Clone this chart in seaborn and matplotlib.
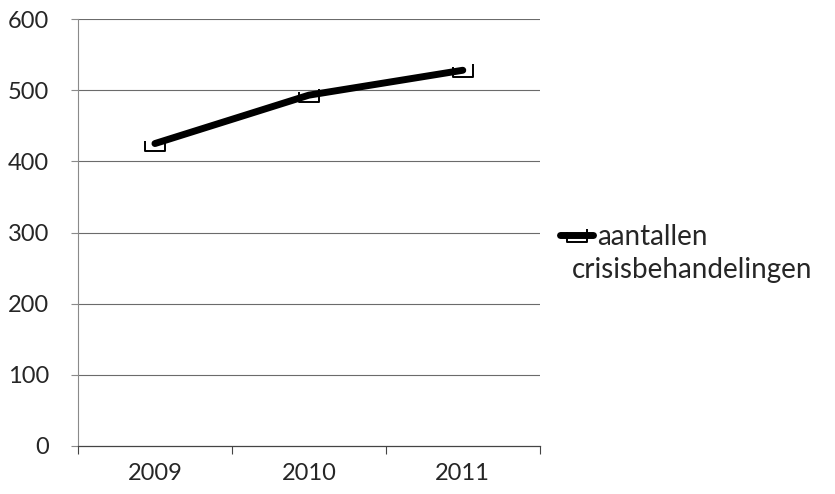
import matplotlib
matplotlib.use("Agg")
import matplotlib.pyplot as plt
import pandas as pd
import seaborn as sns

# data
years = ["2009", "2010", "2011"]
counts = [425, 493, 528]
series_name = "aantallen"
series_name_cont = "crisisbehandelingen"
y_ticks = [0, 100, 200, 300, 400, 500, 600]

df = pd.DataFrame({"jaar": years, "aantal": counts, "reeks": series_name})

sns.set_theme(style="white")
plt.rcParams["font.family"] = ["Lato", "DejaVu Sans"]

fig = plt.figure(figsize=(8.35, 4.94), dpi=100)
ax = fig.add_axes([0.0934, 0.0972, 0.553, 0.8643])

# open "cup" marker like the scanned Excel marker
cup = [(-1.0, 0.3), (-1.0, -0.7), (1.0, -0.7), (1.0, 0.6)]

sns.lineplot(
    data=df, x="jaar", y="aantal", hue="reeks", palette=["black"],
    linewidth=5, marker=cup, markersize=14, markerfacecolor="none",
    markeredgecolor="black", markeredgewidth=1.4, sort=False, ax=ax,
)

ax.set_ylim(0, 600)
ax.set_yticks(y_ticks)
ax.set_xlim(-0.5, 2.5)
ax.set_xlabel("")
ax.set_ylabel("")

for v in y_ticks[1:]:
    ax.axhline(v, color="#6b6b6b", lw=0.8, zorder=0)

for side in ["top", "right"]:
    ax.spines[side].set_visible(False)
ax.spines["left"].set_color("#8a8a8a")
ax.spines["left"].set_linewidth(0.8)
ax.spines["bottom"].set_color("#444444")
ax.spines["bottom"].set_linewidth(0.9)

ax.set_xticks([0, 1, 2])
ax.set_xticks([-0.5, 0.5, 1.5, 2.5], minor=True)
ax.tick_params(axis="x", which="major", length=0, pad=12, labelsize=17)
ax.tick_params(axis="x", which="minor", length=6, width=0.8, color="#444444",
               direction="out", bottom=True)
ax.tick_params(axis="y", length=5, width=0.8, color="#8a8a8a", left=True,
               pad=16, labelsize=17)

ax.legend(loc="center left", bbox_to_anchor=(560 / 835 - 0.0934, 0.5), bbox_transform=fig.transFigure,
          frameon=False, fontsize=20, handlelength=1.2, handletextpad=0.15,
          borderaxespad=0, borderpad=0)
leg = ax.get_legend()
leg.set_bbox_to_anchor((560 / 835, 1 - 237 / 494), transform=fig.transFigure)
fig.text(572 / 835, 1 - 270 / 494, series_name_cont, fontsize=20, va="center", ha="left")

fig.savefig("out.png", dpi=100)
